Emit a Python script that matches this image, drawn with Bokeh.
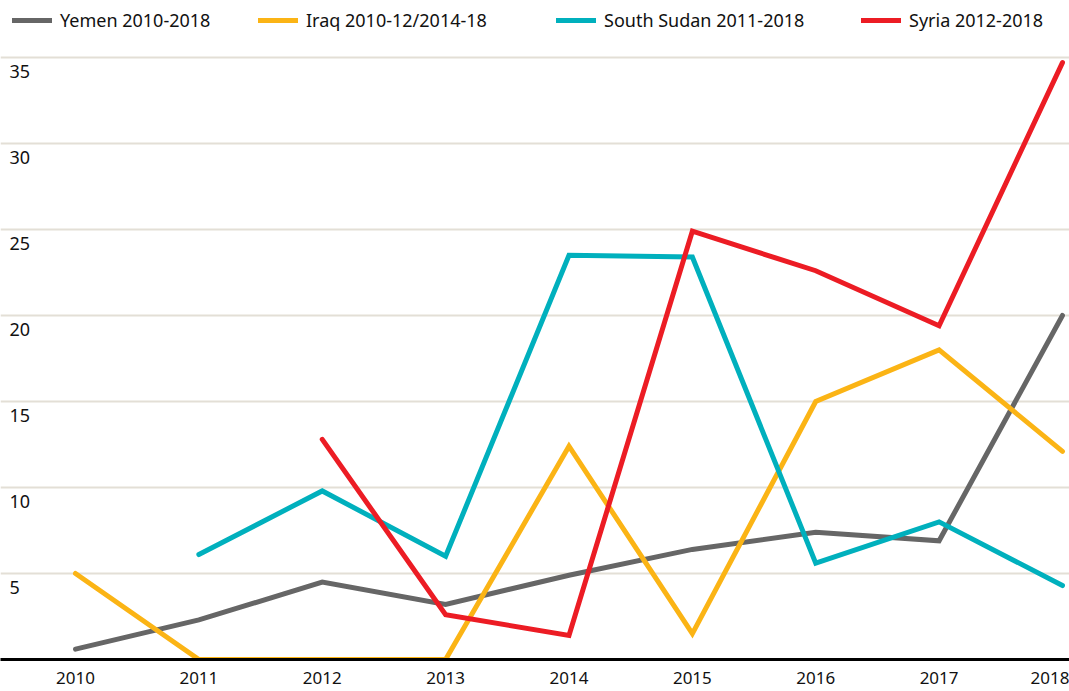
import math
from bokeh.plotting import figure
from bokeh.models import ColumnDataSource, Legend, LegendItem, FixedTicker, Range1d
from bokeh.core.properties import value
from bokeh.embed import file_html
from bokeh.resources import INLINE

NaN = float("nan")
years = [2010, 2011, 2012, 2013, 2014, 2015, 2016, 2017, 2018]
yemen = [0.6, 2.3, 4.5, 3.2, 4.9, 6.4, 7.4, 6.9, 20.0]
iraq = [5.0, 0.0, 0.0, 0.0, 12.4, 1.5, 15.0, 18.0, 12.1]
south_sudan = [NaN, 6.1, 9.8, 6.0, 23.5, 23.4, 5.6, 8.0, 4.3]
syria = [NaN, NaN, 12.8, 2.6, 1.4, 24.9, 22.6, 19.4, 34.7]

series_names = ["Yemen 2010-2018", "Iraq 2010-12/2014-18", "South Sudan 2011-2018", "Syria 2012-2018"]
series_values = [yemen, iraq, south_sudan, syria]
series_colors = ["#666666", "#fbb415", "#00b0bd", "#ec1c24"]
y_ticks = [5, 10, 15, 20, 25, 30, 35]

FONT = "Noto Sans"

x0, x1 = 2009.392, 2018.057
p = figure(frame_width=1069, frame_height=659, output_backend="svg", toolbar_location=None,
           x_range=Range1d(x0, x1), y_range=Range1d(0, 38.31),
           min_border_left=0, min_border_right=0, min_border_top=0, min_border_bottom=32,
           outline_line_color=None)

p.yaxis.visible = False
p.xgrid.visible = False
p.ygrid.ticker = FixedTicker(ticks=y_ticks)
p.ygrid.grid_line_color = "#e3dfd6"
p.ygrid.grid_line_width = 2

xa = p.xaxis[0]
xa.ticker = FixedTicker(ticks=years)
xa.axis_line_color = "#000000"
xa.axis_line_width = 3
xa.major_tick_line_color = None
xa.minor_tick_line_color = None
xa.major_label_text_font = FONT
xa.major_label_text_font_size = "17px"
xa.major_label_text_color = "#111111"
xa.major_label_standoff = 6

# y tick labels inside the plot, under each gridline
p.text(x=[x0] * len(y_ticks), y=y_ticks, text=[str(t) for t in y_ticks],
       x_offset=9, y_offset=8, text_baseline="top", text_align="left",
       text_font=value(FONT), text_font_size="18px", text_color="#111111")

renderers = []
for name, vals, col in zip(series_names, series_values, series_colors):
    src = ColumnDataSource(dict(x=years, y=vals))
    r = p.line("x", "y", source=src, line_color=col, line_width=5,
               line_cap="round", line_join="miter")
    renderers.append(r)

legend_x = [12, 258, 556, 861]
for name, r, lx in zip(series_names, renderers, legend_x):
    lg = Legend(items=[LegendItem(label=name, renderers=[r])], location=(lx, 627),
                orientation="horizontal", padding=0, margin=0, spacing=0,
                glyph_width=40, glyph_height=20, label_standoff=8,
                label_text_font=FONT, label_text_font_size="18px",
                label_text_color="#111111",
                background_fill_alpha=0, border_line_color=None)
    p.add_layout(lg)

open("out.html", "w").write(file_html(p, INLINE))
